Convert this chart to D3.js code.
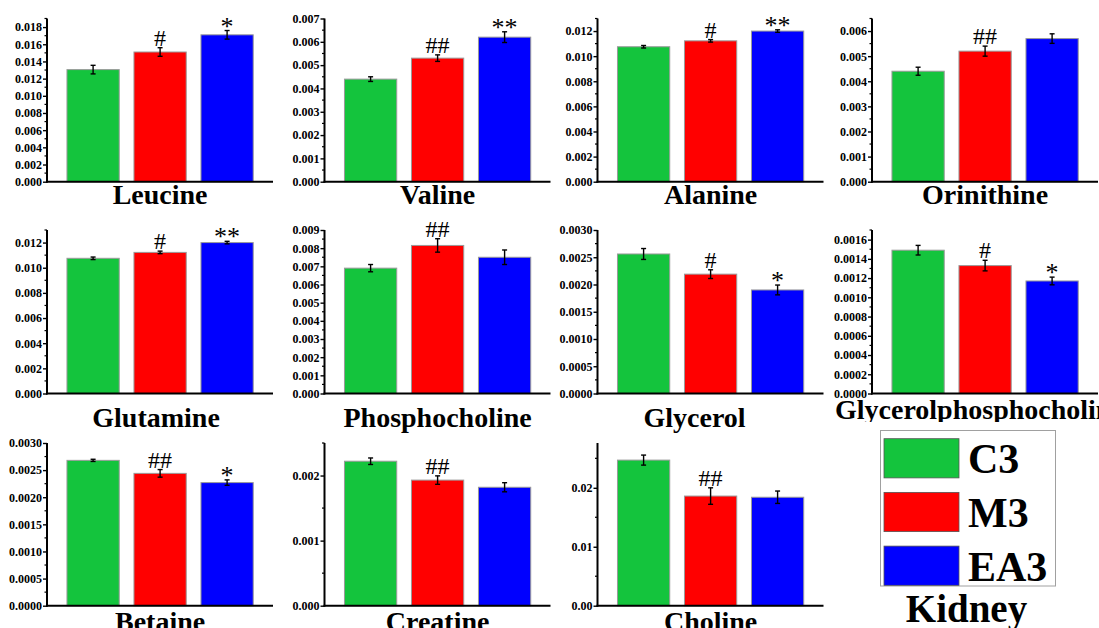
<!DOCTYPE html>
<html>
<head>
<meta charset="utf-8">
<script src="https://cdn.jsdelivr.net/npm/d3@7"></script>
<style>
  html, body { margin: 0; padding: 0; background: #fff; }
  svg { display: block; }
</style>
</head>
<body>
<svg id="chart" width="1099" height="628"></svg>
<script>
// ---------------- data ----------------
const metabolites = ["Leucine","Valine","Alanine","Orinithine","Glutamine","Phosphocholine","Glycerol","Glycerolphosphocholine","Betaine","Creatine","Choline"];
const groups = ["C3","M3","EA3"];
const c3Means  = [0.01305, 0.0044, 0.01075, 0.0044, 0.01075, 0.0069, 0.00256, 0.00149, 0.00268, 0.00222, 0.0247];
const m3Means  = [0.0151, 0.0053, 0.01122, 0.0052, 0.01122, 0.00815, 0.00219, 0.00133, 0.00244, 0.00193, 0.0186];
const ea3Means = [0.0171, 0.0062, 0.0120, 0.0057, 0.0120, 0.0075, 0.0019, 0.00117, 0.00227, 0.00182, 0.0184];
const c3Err  = [0.0005, 0.0001, 0.0001, 0.00016, 0.0001, 0.0002, 0.0001, 0.00005, 0.00002, 0.00005, 0.00085];
const m3Err  = [0.0005, 0.00014, 0.0001, 0.0002, 0.0001, 0.00037, 0.00008, 0.000055, 0.00007, 0.000065, 0.0014];
const ea3Err = [0.0005, 0.00023, 0.0001, 0.00019, 0.0001, 0.0004, 0.00009, 0.00004, 0.00005, 0.00007, 0.00105];
const m3Marks  = ["#","##","#","##","#","##","#","#","##","##","##"];
const ea3Marks = ["*","**","**","","**","","*","*","*","",""];
const yMax       = [0.019, 0.007, 0.013, 0.0065, 0.013, 0.009, 0.003, 0.0017, 0.003, 0.0025, 0.0276];
const yMajorStep = [0.002, 0.001, 0.002, 0.001, 0.002, 0.001, 0.0005, 0.0002, 0.0005, 0.001, 0.01];
const tickDecimals = [3,3,3,3,3,3,4,4,4,3,2];
const legendTitle = "Kidney";

// ---------------- layout ----------------
const colors = ["#14c43d", "#ff0000", "#0000ff"];
const colAxisX = [47, 324.5, 597.5, 872];
const rowZeroY = [181.7, 393.5, 605.7];
const rowTopY  = [18.5, 230, 443];
const rowTitleY = [204, 427, 631];
const titleDx = [0, 0, 0, 0, -4, 0, -16, 0, 0, 0, 0];

const svg = d3.select("#chart");
svg.append("defs").append("clipPath").attr("id", "gpcClip")
  .append("rect").attr("x", 800).attr("y", 380).attr("width", 299).attr("height", 42);

const serif = "'Liberation Serif', 'Times New Roman', serif";

metabolites.forEach((name, i) => {
  const col = i % 4, row = Math.floor(i / 4);
  const ax = colAxisX[col];
  const y0 = rowZeroY[row], yT = rowTopY[row];
  const means = [c3Means[i], m3Means[i], ea3Means[i]];
  const errs = [c3Err[i], m3Err[i], ea3Err[i]];
  const marks = ["", m3Marks[i], ea3Marks[i]];

  const y = d3.scaleLinear().domain([0, yMax[i]]).range([y0, yT]);
  const x = d3.scaleBand().domain(groups)
    .range([ax + 12.6, ax + 12.6 + 201]).paddingInner(0.22).paddingOuter(0.11);

  const g = svg.append("g");

  // bars
  g.selectAll("rect.bar").data(groups).join("rect")
    .attr("class", "bar")
    .attr("x", d => x(d))
    .attr("width", x.bandwidth())
    .attr("y", (d, k) => y(means[k]))
    .attr("height", (d, k) => y0 - y(means[k]))
    .attr("fill", (d, k) => colors[k])
    .attr("stroke", "#9a9a9a")
    .attr("stroke-width", 1);

  // error bars
  groups.forEach((gr, k) => {
    const cx = x(gr) + x.bandwidth() / 2;
    const yh = y(means[k] + errs[k]), yl = y(means[k] - errs[k]);
    g.append("line").attr("x1", cx).attr("x2", cx).attr("y1", yh).attr("y2", yl)
      .attr("stroke", "#000").attr("stroke-width", 1.4);
    [yh, yl].forEach(yy => g.append("line")
      .attr("x1", cx - 2.5).attr("x2", cx + 2.5).attr("y1", yy).attr("y2", yy)
      .attr("stroke", "#000").attr("stroke-width", 1.4));
    if (marks[k]) {
      const isStar = marks[k].startsWith("*");
      g.append("text")
        .attr("x", cx)
        .attr("y", isStar ? yh + 4 : yh - 2)
        .attr("text-anchor", "middle")
        .attr("font-family", serif)
        .attr("font-size", isStar ? 26 : 24)
        .attr("fill", "#000")
        .text(marks[k]);
    }
  });

  // y axis
  const step = yMajorStep[i];
  const majors = d3.range(0, yMax[i] + step * 1e-6, step);
  const minors = d3.range(step / 2, yMax[i] + step * 1e-6, step);
  const fmt = d3.format("." + tickDecimals[i] + "f");
  const yAxis = g.append("g").attr("transform", `translate(${ax},0)`)
    .attr("font-family", serif)
    .call(d3.axisLeft(y).tickValues(majors).tickFormat(fmt).tickSize(4).tickPadding(1));
  yAxis.attr("font-family", serif);
  yAxis.select(".domain").remove();
  yAxis.selectAll(".tick line").attr("stroke", "#000").attr("stroke-width", 1.4);
  yAxis.selectAll(".tick text")
    .attr("font-family", serif).attr("font-weight", "bold").attr("font-size", 12).attr("fill", "#000");
  g.selectAll("line.minor").data(minors).join("line")
    .attr("class", "minor")
    .attr("x1", ax - 2.5).attr("x2", ax)
    .attr("y1", d => y(d)).attr("y2", d => y(d))
    .attr("stroke", "#000").attr("stroke-width", 1.2);
  g.append("line").attr("x1", ax).attr("x2", ax).attr("y1", y0 + 1).attr("y2", yT)
    .attr("stroke", "#000").attr("stroke-width", 2);
  // x axis
  g.append("line").attr("x1", ax - 1).attr("x2", ax + 226).attr("y1", y0).attr("y2", y0)
    .attr("stroke", "#000").attr("stroke-width", 2);

  // title
  const t = g.append("text")
    .attr("font-family", serif).attr("font-weight", "bold").attr("font-size", 28)
    .attr("fill", "#000").attr("y", rowTitleY[row]);
  if (name === "Glycerolphosphocholine") {
    t.attr("x", 835).attr("y", 419).attr("text-anchor", "start").attr("clip-path", "url(#gpcClip)");
  } else {
    t.attr("x", x("M3") + x.bandwidth() / 2 + titleDx[i]).attr("text-anchor", "middle");
  }
  t.text(name);
});

// ---------------- legend ----------------
const lg = svg.append("g");
lg.append("rect").attr("x", 880.5).attr("y", 430.5).attr("width", 175).attr("height", 155.5)
  .attr("fill", "#fff").attr("stroke", "#a0a0a0").attr("stroke-width", 1);
const legY = d3.scaleBand().domain(groups).range([436, 588]).paddingInner(0.27).paddingOuter(0.05);
groups.forEach((gr, k) => {
  lg.append("rect").attr("x", 884).attr("y", legY(gr)).attr("width", 75).attr("height", legY.bandwidth())
    .attr("fill", colors[k]).attr("stroke", "#555").attr("stroke-width", 0.8);
  lg.append("text").attr("x", 968).attr("y", legY(gr) + legY.bandwidth() / 2 + 15)
    .attr("font-family", serif).attr("font-weight", "bold").attr("font-size", 42)
    .attr("fill", "#000").text(gr);
});
lg.append("text").attr("x", 966.5).attr("y", 621.5).attr("text-anchor", "middle")
  .attr("font-family", serif).attr("font-weight", "bold").attr("font-size", 39)
  .attr("fill", "#000").text(legendTitle);
</script>
</body>
</html>
